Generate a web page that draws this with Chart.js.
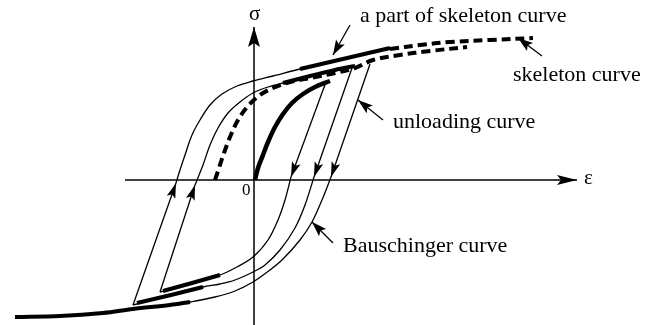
<!DOCTYPE html>
<html>
<head>
<meta charset="utf-8">
<script src="https://cdn.jsdelivr.net/npm/chart.js@4/dist/chart.umd.min.js"></script>
<style>
html, body { margin: 0; padding: 0; background: #fff; }
</style>
</head>
<body>
<canvas id="hyst" width="661" height="325"></canvas>
<script>
"use strict";

// all points are [strain, stress] in arbitrary units, origin at 0
var initialLoading = [[0.01,0],[0.04,0.12],[0.09,0.25],[0.14,0.38],[0.21,0.53],[0.29,0.66],[0.38,0.77],[0.49,0.86],[0.61,0.93],[0.76,0.99]];

var unload1 = [[0.72,0.98],[0.37,0.03]];
var bausch1 = [[0.37,0.03],[0.31,-0.20],[0.24,-0.40],[0.14,-0.60],[-0.01,-0.77],[-0.19,-0.88],[-0.34,-0.95],[-0.62,-1.03],[-0.94,-1.12]];
var thickComp1 = [[-0.34,-0.95],[-0.62,-1.03],[-0.91,-1.11]];
var reload1 = [[-0.94,-1.12],[-0.59,-0.05]];

var middleUpper = [[-0.59,-0.05],[-0.51,0.15],[-0.44,0.35],[-0.36,0.52],[-0.26,0.67],[-0.14,0.78],[-0.01,0.87],[0.14,0.93],[0.33,0.98],[0.56,1.04],[0.81,1.10],[1.01,1.14]];
var thickMiddle = [[0.29,0.97],[0.56,1.04],[0.81,1.10],[1.01,1.14]];

var unload2 = [[0.98,1.12],[0.60,0.03]];
var bausch2 = [[0.60,0.03],[0.51,-0.25],[0.41,-0.48],[0.26,-0.70],[0.11,-0.85],[-0.01,-0.92],[-0.19,-1.00],[-0.34,-1.04],[-0.51,-1.07],[-0.83,-1.15],[-1.21,-1.25]];
var thickComp2 = [[-0.51,-1.07],[-0.83,-1.15],[-1.17,-1.23]];
var reload2 = [[-1.21,-1.25],[-0.78,-0.03]];

var outerUpper = [[-0.78,-0.03],[-0.74,0.10],[-0.69,0.25],[-0.62,0.45],[-0.54,0.60],[-0.44,0.75],[-0.32,0.86],[-0.17,0.94],[-0.01,0.99],[0.19,1.04],[0.46,1.11],[0.76,1.18],[1.06,1.25],[1.36,1.32]];
var thickOuter = [[0.46,1.11],[0.76,1.18],[1.06,1.25],[1.36,1.32]];

var unload3 = [[1.16,1.16],[0.77,0.03]];
var bausch3 = [[0.77,0.03],[0.68,-0.20],[0.58,-0.42],[0.46,-0.60],[0.29,-0.79],[0.16,-0.90],[-0.01,-1.02],[-0.19,-1.11],[-0.39,-1.17],[-0.64,-1.22],[-0.84,-1.25]];
var lowerSkeleton = [[-0.64,-1.22],[-0.84,-1.25],[-1.21,-1.29],[-1.51,-1.33],[-1.94,-1.36],[-2.39,-1.37]];

var skeleton = [[-0.39,0],[-0.35,0.12],[-0.30,0.27],[-0.24,0.43],[-0.16,0.60],[-0.06,0.74],[0.06,0.85],[0.19,0.92],[0.36,0.98],[0.56,1.02],[0.81,1.07],[1.01,1.12],[1.19,1.20],[1.46,1.25],[1.76,1.29],[2.13,1.33]];
var skeletonUpper = [[1.36,1.31],[1.66,1.35],[1.96,1.38],[2.36,1.40],[2.79,1.42]];

var strainAxis = [[-1.29,0],[3.23,0]];
var stressAxis = [[0,-1.45],[0,1.53]];

// label pointers
var ptrPart = [[0.96,1.55],[0.79,1.25]];
var ptrSkeleton = [[2.88,1.24],[2.64,1.42]];
var ptrUnload = [[1.29,0.60],[1.04,0.80]];
var ptrBausch = [[0.79,-0.63],[0.58,-0.42]];

var labelTexts = ["a part of skeleton curve", "skeleton curve", "unloading curve", "Bauschinger curve", "\u03c3", "\u03b5", "0"];
var labelAnchors = [[1.06,1.58],[2.59,0.99],[1.39,0.52],[0.89,-0.72],[-0.05,1.60],[3.30,-0.04],[-0.12,-0.15]];

function pts(arr) {
  return arr.map(function(p) { return {x: p[0], y: p[1]}; });
}

function line(arr, width, extra) {
  var ds = {
    data: pts(arr),
    showLine: true,
    pointRadius: 0,
    borderColor: "#000",
    borderWidth: width,
    tension: 0.35,
    fill: false
  };
  for (var k in extra) ds[k] = extra[k];
  return ds;
}

var arrowPlugin = {
  id: "arrowHeads",
  afterDatasetsDraw: function(chart) {
    var c = chart.ctx;
    chart.data.datasets.forEach(function(ds, i) {
      if (!ds.arrow) return;
      var el = chart.getDatasetMeta(i).data;
      var a = el[el.length - 2], b = el[el.length - 1];
      var ang = Math.atan2(b.y - a.y, b.x - a.x);
      var L = ds.arrow[0], W = ds.arrow[1];
      c.save();
      c.translate(b.x, b.y);
      c.rotate(ang);
      c.beginPath();
      c.moveTo(0, 0);
      c.lineTo(-L, -W);
      c.lineTo(-L * 0.8, 0);
      c.lineTo(-L, W);
      c.closePath();
      c.fillStyle = "#000";
      c.fill();
      c.restore();
    });
  }
};

var labelPlugin = {
  id: "labels",
  afterDraw: function(chart) {
    var c = chart.ctx;
    var xs = chart.scales.x, ys = chart.scales.y;
    c.save();
    c.fillStyle = "#000";
    c.textBaseline = "alphabetic";
    c.textAlign = "left";
    for (var i = 0; i < labelTexts.length; i++) {
      c.font = (i < 4 ? "22px" : (i == 6 ? "17px" : "21px")) + " 'Liberation Serif'";
      c.fillText(labelTexts[i], xs.getPixelForValue(labelAnchors[i][0]), ys.getPixelForValue(labelAnchors[i][1]));
    }
    c.restore();
  }
};

var ctx = document.getElementById("hyst").getContext("2d");
new Chart(ctx, {
  type: "scatter",
  data: {
    datasets: [
      line(strainAxis, 1.5, {tension: 0, arrow: [20, 5]}),
      line(stressAxis, 1.5, {tension: 0, arrow: [20, 6]}),
      line(skeleton, 4, {borderDash: [9, 5]}),
      line(skeletonUpper, 4, {borderDash: [9, 5]}),
      line(initialLoading, 4.5),
      line(unload1, 1.3, {tension: 0, arrow: [15, 4.5]}),
      line(bausch1, 1.3),
      line(thickComp1, 4),
      line(reload1, 1.3, {tension: 0, arrow: [15, 4.5]}),
      line(middleUpper, 1.3),
      line(thickMiddle, 4),
      line(unload2, 1.3, {tension: 0, arrow: [15, 4.5]}),
      line(bausch2, 1.3),
      line(thickComp2, 4),
      line(reload2, 1.3, {tension: 0, arrow: [15, 4.5]}),
      line(outerUpper, 1.3),
      line(thickOuter, 4),
      line(unload3, 1.3, {tension: 0, arrow: [15, 4.5]}),
      line(bausch3, 1.3),
      line(lowerSkeleton, 4),
      line(ptrPart, 1.3, {tension: 0, arrow: [15, 5]}),
      line(ptrSkeleton, 1.3, {tension: 0, arrow: [15, 5]}),
      line(ptrUnload, 1.3, {tension: 0, arrow: [15, 5]}),
      line(ptrBausch, 1.3, {tension: 0, arrow: [15, 5]})
    ]
  },
  options: {
    responsive: false,
    animation: false,
    layout: { padding: 0 },
    plugins: { legend: { display: false }, tooltip: { enabled: false } },
    scales: {
      x: { type: "linear", min: -2.54, max: 4.07, display: false },
      y: { type: "linear", min: -1.45, max: 1.80, display: false }
    }
  },
  plugins: [arrowPlugin, labelPlugin]
});
</script>
</body>
</html>
